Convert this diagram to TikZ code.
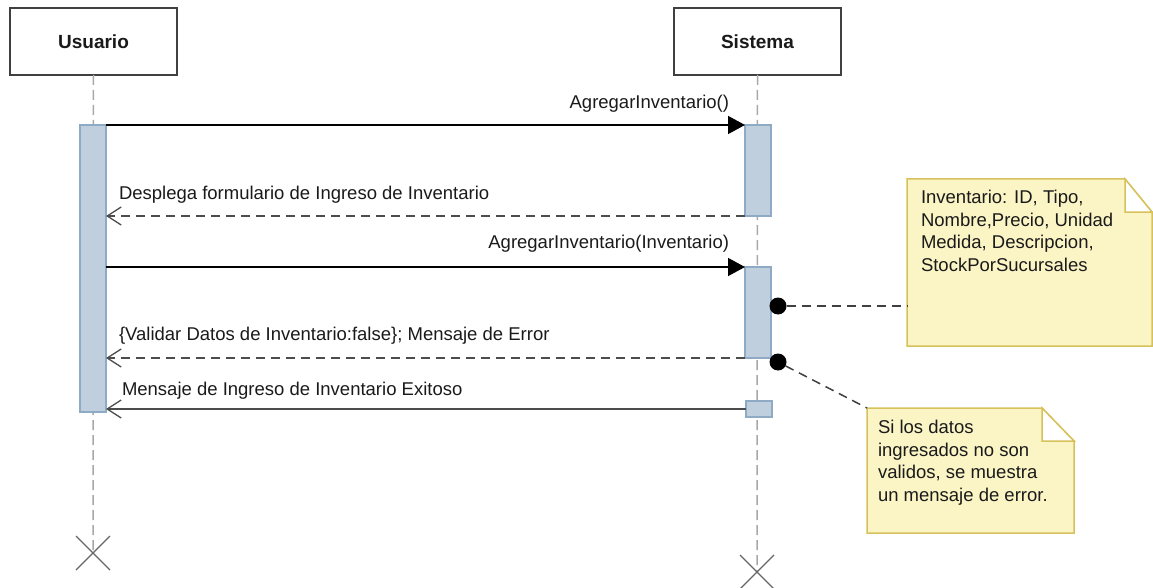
\documentclass[tikz,border=0pt]{standalone}
\usepackage{fontspec}
\setmainfont{Liberation Sans}
\usetikzlibrary{arrows.meta}
\definecolor{actfill}{HTML}{BFCFDD}
\definecolor{actdraw}{HTML}{8FAAC4}
\definecolor{notefill}{HTML}{FBF5C6}
\definecolor{notedraw}{HTML}{D6C15A}
\definecolor{lifegray}{HTML}{A8A8A8}
\definecolor{txt}{HTML}{1A1A1A}
\begin{document}
\begin{tikzpicture}[x=1pt,y=-1pt,
  every node/.style={inner sep=0pt, outer sep=0pt, text=txt, font=\fontsize{18.5}{22.5}\selectfont},
  head/.style={draw=black!75, line width=1.5pt, fill=white, minimum width=167pt, minimum height=67pt, anchor=north west, font=\fontsize{19}{22}\selectfont\bfseries},
  life/.style={draw=lifegray, line width=1.5pt, dash pattern=on 10pt off 5pt},
  xmark/.style={draw=black!60, line width=1.3pt},
  act/.style={draw=actdraw, line width=1.2pt, fill=actfill, minimum width=26pt, anchor=north west},
  msg/.style={draw=black, line width=1.5pt, -{Triangle[length=17pt,width=18pt]}},
  ret/.style={draw=black!70, line width=1.5pt, dash pattern=on 9pt off 6pt, -{Straight Barb[length=14pt,width=18pt,line width=1.3pt]}},
  rsolid/.style={draw=black!70, line width=1.5pt, -{Straight Barb[length=14pt,width=18pt,line width=1.3pt]}},
  lbl/.style={anchor=base west},
  lblr/.style={anchor=base east},
  notebox/.style={minimum width=0pt, anchor=north west},
  noteline/.style={draw=notedraw, line width=1.5pt, fill=notefill},
  notelink/.style={draw=black!75, line width=1.5pt, dash pattern=on 9pt off 6pt},
  dot/.style={circle, fill=black, minimum size=17pt}
]
\useasboundingbox (0,0) rectangle (1153,588);

% heads
\node[head] (u) at (10,8) {Usuario};
\node[head] (s) at (674,8) {Sistema};

% lifeline ends
\coordinate (ux) at (93,553);
\coordinate (sx) at (757,572);
\draw[life] (u.south) -- (ux);
\draw[life] (s.south) -- (sx);
\draw[xmark] ([shift={(-17,-17)}]ux) -- ([shift={(17,17)}]ux);
\draw[xmark] ([shift={(-17,17)}]ux) -- ([shift={(17,-17)}]ux);
\draw[xmark] ([shift={(-17,-17)}]sx) -- ([shift={(17,17)}]sx);
\draw[xmark] ([shift={(-17,17)}]sx) -- ([shift={(17,-17)}]sx);

% activations
\node[act, minimum height=287pt] (ua) at (80,125) {};
\node[act, minimum height=91pt] (sa1) at (745,125) {};
\node[act, minimum height=91pt] (sa2) at (745,267) {};
\node[act, minimum height=16pt] (sa3) at (746,401) {};

% messages
\draw[msg] (ua.east |- sa1.north) -- (sa1.north west);
\node[lblr] (l1) at (729,109) {AgregarInventario()};
\draw[ret] (sa1.south west) -- (ua.east |- sa1.south);
\node[lbl] (l2) at (119,200) {Desplega formulario de Ingreso de Inventario};
\draw[msg] (ua.east |- sa2.north) -- (sa2.north west);
\node[lblr] (l3) at (729,248) {AgregarInventario(Inventario)};
\draw[ret] (sa2.south west) -- (ua.east |- sa2.south);
\node[lbl] (l4) at (119,340) {\{Validar Datos de Inventario:false\}; Mensaje de Error};
\draw[rsolid] (sa3.west) -- (ua.east |- sa3.west);
\node[lbl] (l5) at (122,395) {Mensaje de Ingreso de Inventario Exitoso};

% note 1
\node[notebox, minimum width=245pt, minimum height=167pt] (n1) at (907,179) {};
\draw[noteline] (n1.north west) -- ([xshift=-27pt]n1.north east) -- ([yshift=-33pt]n1.north east) -- (n1.south east) -- (n1.south west) -- cycle;
\draw[noteline, fill=white] ([xshift=-27pt]n1.north east) -- ([xshift=-27pt,yshift=-33pt]n1.north east) -- ([yshift=-33pt]n1.north east) -- cycle;
\node[anchor=base west, align=left] (t1) at (921,271) {Inventario: ID, Tipo,\\Nombre,Precio, Unidad\\Medida, Descripcion,\\StockPorSucursales};

% note 2
\node[notebox, minimum width=207pt, minimum height=125pt] (n2) at (867,408) {};
\draw[noteline] (n2.north west) -- ([xshift=-32pt]n2.north east) -- ([yshift=-33pt]n2.north east) -- (n2.south east) -- (n2.south west) -- cycle;
\draw[noteline, fill=white] ([xshift=-32pt]n2.north east) -- ([xshift=-32pt,yshift=-33pt]n2.north east) -- ([yshift=-33pt]n2.north east) -- cycle;
\node[anchor=base west, align=left] (t2) at (878,501) {Si los datos\\ingresados no son\\validos, se muestra\\un mensaje de error.};

% dots and links
\node[dot] (d1) at (778,306) {};
\node[dot] (d2) at (778,362) {};
\draw[notelink] (d1) -- (d1 -| n1.west);
\draw[notelink] (d2) -- (n2.north west);
\end{tikzpicture}
\end{document}
